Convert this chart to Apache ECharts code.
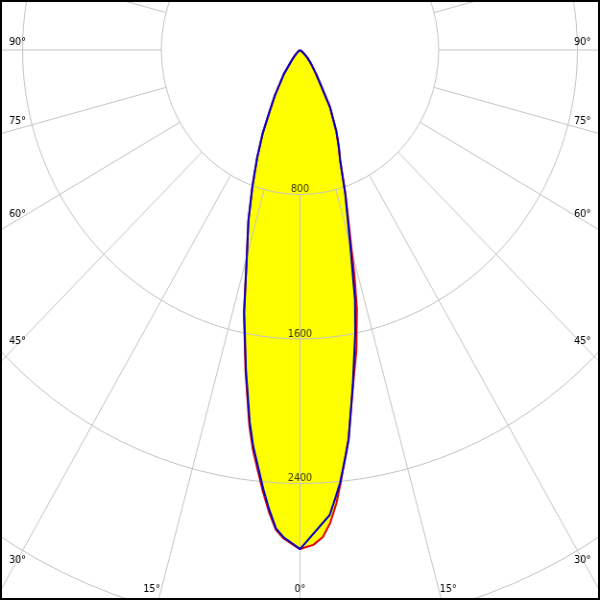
<!DOCTYPE html>
<html><head><meta charset="utf-8">
<script src="https://cdn.jsdelivr.net/npm/echarts@6/dist/echarts.min.js"></script>
<style>
html,body{margin:0;padding:0;background:#fff;}
#wrap{position:relative;width:600px;height:600px;overflow:hidden;background:#fff;}
#chart{position:absolute;left:0;top:0;width:625px;height:600px;transform:scaleX(0.96);transform-origin:0 0;}
#frame{position:absolute;left:0;top:0;width:600px;height:600px;box-sizing:border-box;border:2px solid #000;pointer-events:none;}
</style></head><body>
<div id="wrap"><div id="chart"></div><div id="frame"></div></div>
<script>
// ---- data (intensity in cd, angle in degrees from nadir) ----
const radiusTicks = [800, 1600, 2400];
const angleTickLabels = [0, 15, 30, 45, 60, 75, 90];

const blueLeftAngles  = [0,1,2,3,4,5,6,7,8,10,12.5,15,17.5,20,22.5,25,27.5,30,35,40,45,50,55,60,90];
const blueLeftValues  = [2763,2730,2700,2652,2550,2437,2318,2212,2082,1796,1488,1184,989,802,647,511,374,290,163,75,40,18,6,0,0];
const blueRightAngles = [0,3.8,4.6,5.5,6.5,7.4,9.4,11.5,12.9,15,18.2,20.8,22.5,25,28.7,32.2,35,40,45,50,55,60,90];
const blueRightValues = [2763,2580,2499,2408,2285,2177,1868,1598,1420,1120,833,651,588,496,360,216,160,100,60,25,8,0,0];

const redLeftAngles   = [0,1,2,3,4,5,6,7,8,10,12.5,15,17.5,20,22.5,25,27.5,30,35,40,45,50,55,60,90];
const redLeftValues   = [2763,2735,2706,2660,2565,2455,2338,2230,2100,1808,1494,1188,990,802,646,510,372,288,160,72,38,16,5,0,0];
const redRightAngles  = [0,1.6,2.8,3.8,4.8,5.5,6.5,7.4,9.4,11.1,12.9,14.1,15.1,18.2,20.8,22.5,25,28.7,32.2,35,40,45,50,55,60,90];
const redRightValues  = [2763,2741,2699,2624,2517,2420,2282,2172,1876,1690,1470,1290,1140,840,650,585,494,358,214,158,98,58,24,8,0,0];

// ---- layout ----
const W = 625, H = 600, CX = 312.5, CY = 50;
const PX_PER_800 = 144.5;
const RMAX = 4000, ROUT = PX_PER_800 * RMAX / 800;

function curve(la, lv, ra, rv) {
  const pts = [];
  for (let i = la.length - 1; i >= 0; i--) pts.push([lv[i], -la[i]]);
  for (let i = 1; i < ra.length; i++) pts.push([rv[i], ra[i]]);
  return pts;
}
const bluePts = curve(blueLeftAngles, blueLeftValues, blueRightAngles, blueRightValues);
const redPts  = curve(redLeftAngles, redLeftValues, redRightAngles, redRightValues);

const FONT = '10px "DejaVu Sans"';
const graphics = [];
angleTickLabels.forEach(function (deg) {
  const sides = deg === 0 ? [0] : [-1, 1];
  const th = deg * Math.PI / 180, s0 = Math.sin(th), c0 = Math.cos(th);
  sides.forEach(function (s) {
    const txt = deg + '°';
    let bottom = false;
    if (c0 > 1e-6) {
      const xb = CX + s * s0 * (H - CY) / c0;
      if (xb > 0 && xb < W) bottom = true;
    }
    let x, y, align;
    if (bottom) {
      const yl = 589;
      x = CX + s * s0 * (yl - CY) / c0 + s * 38.6 * s0;
      y = yl; align = 'center';
    } else {
      const inset = 18.75;
      const yl = CY + (CX - inset) * c0 / s0;
      y = yl - (20 * s0 - 12);
      x = s < 0 ? 9.4 : W - 9.4;
      align = s < 0 ? 'left' : 'right';
    }
    graphics.push({
      type: 'text', z: 100, silent: true,
      style: { text: txt, x: x, y: y, font: FONT, fill: '#000',
               textAlign: align, align: align, textVerticalAlign: 'middle', verticalAlign: 'middle' }
    });
  });
});

const gridColor = '#c4c4c4';
const chart = echarts.init(document.getElementById('chart'), null, { renderer: 'canvas' });
chart.setOption({
  animation: false,
  backgroundColor: '#fff',
  polar: [
    { center: [CX, CY], radius: [PX_PER_800, ROUT] },
    { center: [CX, CY], radius: [0, ROUT] }
  ],
  angleAxis: [
    { polarIndex: 0, type: 'value', min: 0, max: 360, interval: 15, startAngle: 90, clockwise: false, z: 2,
      axisLine: { show: false }, axisTick: { show: false }, axisLabel: { show: false },
      splitLine: { show: true, lineStyle: { color: gridColor, width: 1 } } },
    { polarIndex: 1, type: 'value', min: -180, max: 180, startAngle: 90, clockwise: false, show: false }
  ],
  radiusAxis: [
    { polarIndex: 0, type: 'value', min: 800, max: RMAX, interval: 800, z: 2,
      axisLine: { show: false }, axisTick: { show: false }, axisLabel: { show: false },
      splitLine: { show: true, lineStyle: { color: gridColor, width: 1 } } },
    { polarIndex: 1, type: 'value', min: 0, max: RMAX, show: false }
  ],
  series: [
    { type: 'line', coordinateSystem: 'polar', polarIndex: 1, data: redPts, symbol: 'none', z: 1, silent: true,
      lineStyle: { opacity: 0 }, areaStyle: { color: '#ffff00', opacity: 1 } },
    { type: 'line', coordinateSystem: 'polar', polarIndex: 1, data: bluePts, symbol: 'none', z: 1, silent: true,
      lineStyle: { opacity: 0 }, areaStyle: { color: '#ffff00', opacity: 1 } },
    { type: 'line', coordinateSystem: 'polar', polarIndex: 1, data: redPts, symbol: 'none', z: 3, silent: true,
      lineStyle: { color: '#e00000', width: 2 } },
    { type: 'line', coordinateSystem: 'polar', polarIndex: 1, data: bluePts, symbol: 'none', z: 4, silent: true,
      lineStyle: { color: '#0000c8', width: 2 } },
    { type: 'scatter', coordinateSystem: 'polar', polarIndex: 1, z: 5, silent: true,
      data: radiusTicks.map(function (v) { return [v, 0]; }), symbolSize: 0,
      label: { show: true, position: 'inside', offset: [0, -5], color: '#000',
               fontSize: 10, fontFamily: 'DejaVu Sans',
               formatter: function (p) { return String(p.value[0]); } } }
  ],
  graphic: graphics
});
</script>
</body></html>
